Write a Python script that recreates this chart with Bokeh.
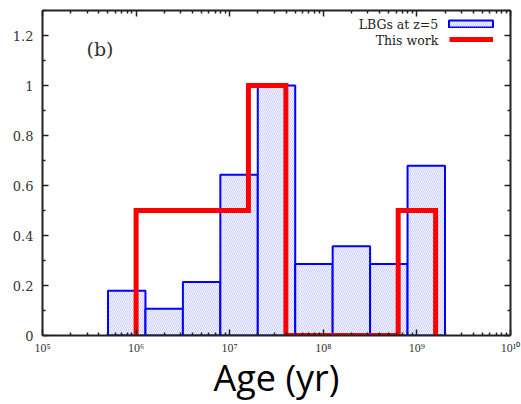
from bokeh.plotting import figure
from bokeh.models import (Range1d, FixedTicker, CustomJSTickFormatter, LogAxis, LinearAxis,
                          Legend, LegendItem, Label, ColumnDataSource)
from bokeh.core.properties import value
from bokeh.embed import file_html
from bokeh.resources import INLINE

# ---------------- data ----------------
lbg_log_age_edges = [5.7, 6.1, 6.5, 6.9, 7.3, 7.7, 8.1, 8.5, 8.9, 9.3]
lbg_fraction = [0.179, 0.107, 0.214, 0.643, 1.0, 0.286, 0.357, 0.286, 0.679]

this_work_log_age_edges = [6.0, 6.4, 6.8, 7.2, 7.6, 8.0, 8.4, 8.8, 9.2]
this_work_fraction = [0.5, 0.5, 0.5, 1.0, 0.0, 0.0, 0.0, 0.5]

x_ticks = [1e5, 1e6, 1e7, 1e8, 1e9, 1e10]
x_tick_labels = ["10\u2075", "10\u2076", "10\u2077", "10\u2078", "10\u2079", "10\u00b9\u2070"]
y_ticks = [0, 0.2, 0.4, 0.6, 0.8, 1.0, 1.2]
y_tick_labels = ["0", "0.2", "0.4", "0.6", "0.8", "1", "1.2"]
y_minor_ticks = [0.1, 0.3, 0.5, 0.7, 0.9, 1.1, 1.3]

legend_labels = ["LBGs at z=5", "This work"]
panel_tag = "(b)"
x_title = "Age (yr)"

# ---------------- derived ----------------
x_minor_ticks = [m * t for t in x_ticks[:-1] for m in range(2, 10)]

bar_src = ColumnDataSource(dict(
    left=[10 ** e for e in lbg_log_age_edges[:-1]],
    right=[10 ** e for e in lbg_log_age_edges[1:]],
    top=lbg_fraction,
    bottom=[0] * len(lbg_fraction),
))

step_x = [10 ** this_work_log_age_edges[0]]
step_y = [0.0]
for i, v in enumerate(this_work_fraction):
    step_x += [10 ** this_work_log_age_edges[i], 10 ** this_work_log_age_edges[i + 1]]
    step_y += [v, v]
step_x.append(10 ** this_work_log_age_edges[-1])
step_y.append(0.0)

# ---------------- figure ----------------
p = figure(width=521, height=404, x_axis_type="log",
           x_range=Range1d(1e5, 1e10), y_range=Range1d(0, 1.3),
           output_backend="svg", toolbar_location=None,
           min_border_left=42, min_border_right=11, min_border_top=10, min_border_bottom=68)
p.outline_line_color = None
p.xgrid.visible = False
p.ygrid.visible = False
p.background_fill_color = "white"
p.border_fill_color = "white"

bars = p.quad(left="left", right="right", top="top", bottom="bottom", source=bar_src,
              fill_color="#f5f6fe", line_color="#0000ff", line_width=2,
              hatch_pattern="\\", hatch_color="#a0a8f0", hatch_alpha=0.5,
              hatch_scale=4, hatch_weight=1.0)

step = p.line(step_x, step_y, line_color="#ff0000", line_width=5, line_join="miter")

xt = FixedTicker(ticks=x_ticks, minor_ticks=x_minor_ticks)
yt = FixedTicker(ticks=y_ticks, minor_ticks=y_minor_ticks)

xfmt = CustomJSTickFormatter(args=dict(labels=x_tick_labels), code="return labels[index];")
yfmt = CustomJSTickFormatter(args=dict(labels=y_tick_labels), code="return labels[index];")

def style_axis(ax):
    ax.axis_line_width = 2
    ax.axis_line_color = "#222222"
    ax.major_tick_in = 6
    ax.major_tick_out = 0
    ax.minor_tick_in = 3
    ax.minor_tick_out = 0
    ax.major_tick_line_color = "#222222"
    ax.minor_tick_line_color = "#222222"
    ax.major_tick_line_width = 1.5
    ax.minor_tick_line_width = 1.5

xa = p.xaxis[0]
xa.ticker = xt
xa.formatter = xfmt
style_axis(xa)
xa.major_label_text_font = "Liberation Serif"
xa.major_label_text_font_size = "12px"
xa.major_label_text_color = "#333333"
xa.major_label_standoff = 5
xa.axis_label = x_title
xa.axis_label_text_font = "Open Sans"
xa.axis_label_text_font_size = "36px"
xa.axis_label_text_font_style = "normal"
xa.axis_label_text_color = "black"
xa.axis_label_standoff = -5

ya = p.yaxis[0]
ya.ticker = yt
ya.formatter = yfmt
style_axis(ya)
ya.major_label_text_font = "DejaVu Serif"
ya.major_label_text_font_size = "13px"
ya.major_label_text_color = "#333333"
ya.major_label_standoff = 9

blank = CustomJSTickFormatter(code="return '';")
top_ax = LogAxis(ticker=xt, formatter=blank, major_label_standoff=0)
style_axis(top_ax)
p.add_layout(top_ax, "above")
right_ax = LinearAxis(ticker=yt, formatter=blank, major_label_standoff=0)
style_axis(right_ax)
p.add_layout(right_ax, "right")

# legend samples (library legends), texts as labels to their left
leg1 = Legend(items=[LegendItem(label=value(" "), renderers=[bars])],
              location=(401, 307), glyph_width=55, glyph_height=9,
              label_width=1, label_height=9, label_standoff=0, label_text_font_size="4px",
              padding=0, margin=0, spacing=0, border_line_color=None,
              background_fill_alpha=0)
leg2 = Legend(items=[LegendItem(label=value(" "), renderers=[step])],
              location=(407, 292), glyph_width=44, glyph_height=8,
              label_width=1, label_height=8, label_standoff=0, label_text_font_size="4px",
              padding=0, margin=0, spacing=0, border_line_color=None,
              background_fill_alpha=0)
p.add_layout(leg1)
p.add_layout(leg2)

for txt, yy in zip(legend_labels, [1.243, 1.179]):
    p.add_layout(Label(x=10 ** 9.228, y=yy, text=txt, text_align="right",
                       text_baseline="middle", text_font="DejaVu Serif",
                       text_font_size="12.5px", text_color="#222222"))

p.add_layout(Label(x=10 ** 5.47, y=1.147, text=panel_tag, text_align="left",
                   text_baseline="middle", text_font="DejaVu Serif",
                   text_font_size="19px", text_color="#333333"))

open("out.html", "w").write(file_html(p, INLINE))
